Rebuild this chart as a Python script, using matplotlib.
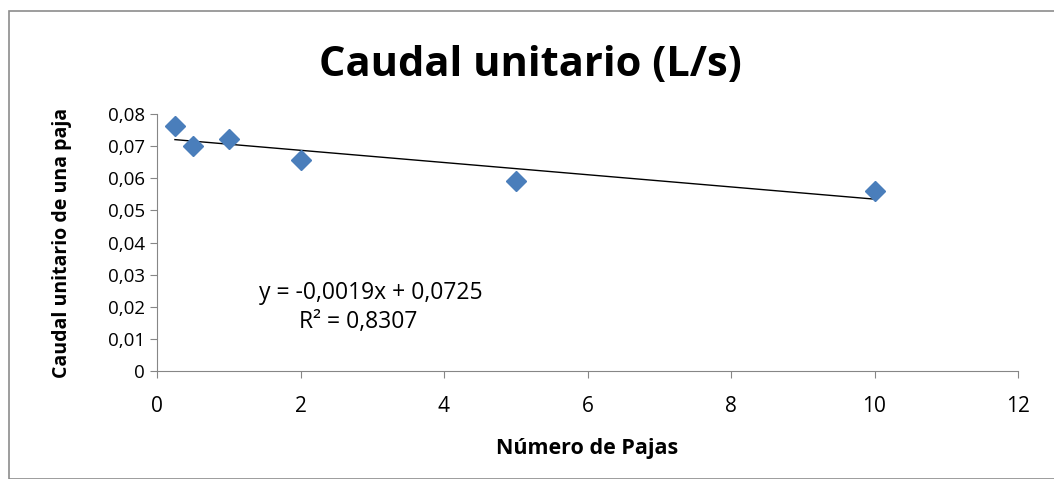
import matplotlib
matplotlib.use("Agg")
import matplotlib.pyplot as plt
import numpy as np
from matplotlib.patches import Rectangle

num_pajas = [0.25, 0.5, 1, 2, 5, 10]
caudal = [0.0763, 0.0700, 0.0723, 0.0658, 0.0590, 0.0561]
x_ticks = [0, 2, 4, 6, 8, 10, 12]
y_ticks = [0, 0.01, 0.02, 0.03, 0.04, 0.05, 0.06, 0.07, 0.08]
slope = -0.0019
intercept = 0.0725
r2 = 0.8307

plt.rcParams['font.family'] = ['Open Sans', 'DejaVu Sans']

fig = plt.figure(figsize=(10.54, 4.79), dpi=100)
fig.patches.append(Rectangle((9/1054, 0), 1.2, 1 - 11/479, transform=fig.transFigure,
                             fill=False, edgecolor='#8c8c8c', linewidth=1.2))

ax = fig.add_axes([157/1054, 1 - 371/479, (1018 - 157)/1054, (371 - 114)/479])

ax.plot(num_pajas, caudal, linestyle='none', marker='D', markersize=10,
        color='#4A7EBB', zorder=3)

xt = np.array([min(num_pajas), max(num_pajas)])
ax.plot(xt, slope * xt + intercept, color='black', linewidth=1, zorder=2)

ax.set_xlim(0, 12)
ax.set_ylim(0, 0.08)
ax.set_xticks(x_ticks)
ax.set_yticks(y_ticks)
ax.set_xticklabels([str(t) for t in x_ticks])
ax.set_yticklabels(['0'] + [f"{t:.2f}".replace('.', ',') for t in y_ticks[1:]])

for s in ['top', 'right']:
    ax.spines[s].set_visible(False)
for s in ['left', 'bottom']:
    ax.spines[s].set_color('#868686')
ax.tick_params(axis='both', colors='#868686', labelcolor='black',
               length=5, direction='out')
ax.tick_params(axis='y', labelsize=13.5)
ax.tick_params(axis='x', pad=13, labelsize=15)

ax.set_xlabel('Número de Pajas', fontsize=15.5, fontweight='bold', labelpad=15)
ax.set_ylabel('Caudal unitario de una paja', fontsize=14, fontweight='bold', labelpad=26)

fig.text(530/1054, 1 - 66/479, 'Caudal unitario (L/s)', fontsize=30, fontweight='bold',
         ha='center', va='center')

fig.text(371/1054, 1 - 293/479, 'y = -0,0019x + 0,0725', fontsize=16.5,
         ha='center', va='center')
fig.text(358/1054, 1 - 322/479, f'R² = {r2:.4f}'.replace('.', ','), fontsize=16.5,
         ha='center', va='center')

fig.savefig('out.png', dpi=100)
